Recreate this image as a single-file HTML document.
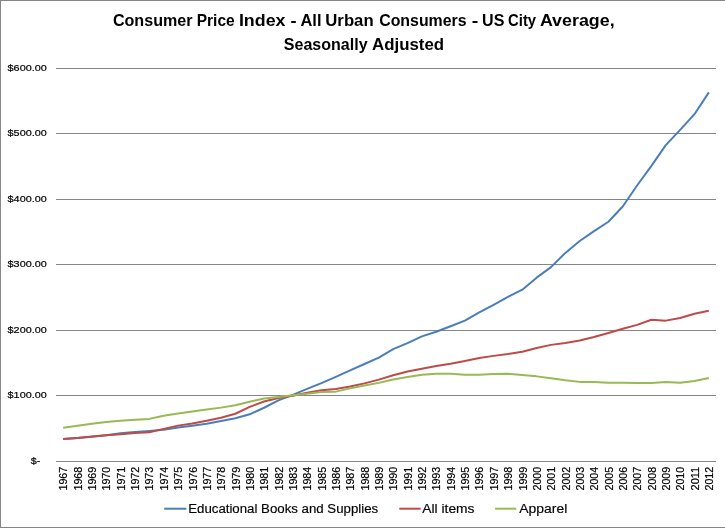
<!DOCTYPE html>
<html lang="en"><head><meta charset="utf-8"><title>Consumer Price Index</title>
<style>
html,body{margin:0;padding:0;background:#fff}
body{width:725px;height:528px;overflow:hidden}
svg{display:block}
text{font-family:"Liberation Sans",sans-serif;fill:#000}
.g{fill:#868686;shape-rendering:crispEdges}
.s{fill:none;stroke-width:2;stroke-linejoin:round;stroke-linecap:butt}
.ax{font-size:9.9px;stroke:#000;stroke-width:0.2px}
.lg{font-size:12.3px;stroke:#000;stroke-width:0.15px}
.ti{font-size:16.5px;font-weight:bold}
</style></head><body>
<svg width="725" height="528" viewBox="0 0 725 528">
<rect x="0" y="0" width="725" height="528" fill="#fff"/>
<rect class="g" x="0" y="0" width="725" height="1"/>
<rect class="g" x="0" y="0" width="1" height="528"/>
<rect class="g" x="0" y="527" width="725" height="1"/>

<g class="ti">
<text x="112.9" y="25.7" textLength="79.6" lengthAdjust="spacingAndGlyphs">Consumer</text>
<text x="196.7" y="25.7" textLength="38.0" lengthAdjust="spacingAndGlyphs">Price</text>
<text x="238.9" y="25.7" textLength="46.6" lengthAdjust="spacingAndGlyphs">Index</text>
<text x="290.6" y="25.7" textLength="6.1" lengthAdjust="spacingAndGlyphs">-</text>
<text x="300.5" y="25.7" textLength="21.0" lengthAdjust="spacingAndGlyphs">All</text>
<text x="325.3" y="25.7" textLength="48.3" lengthAdjust="spacingAndGlyphs">Urban</text>
<text x="379.2" y="25.7" textLength="87.4" lengthAdjust="spacingAndGlyphs">Consumers</text>
<text x="471.7" y="25.7" textLength="6.6" lengthAdjust="spacingAndGlyphs">-</text>
<text x="482.1" y="25.7" textLength="22.3" lengthAdjust="spacingAndGlyphs">US</text>
<text x="508.1" y="25.7" textLength="28.0" lengthAdjust="spacingAndGlyphs">City</text>
<text x="539.9" y="25.7" textLength="74.7" lengthAdjust="spacingAndGlyphs">Average,</text>
<text x="283.8" y="50" textLength="83.8" lengthAdjust="spacingAndGlyphs">Seasonally</text>
<text x="372.1" y="50" textLength="72.0" lengthAdjust="spacingAndGlyphs">Adjusted</text>
</g>
<rect class="g" x="56" y="461" width="660" height="1"/>
<text class="ax" x="30.8" y="464.0" textLength="9.6" lengthAdjust="spacingAndGlyphs">$-</text>
<rect class="g" x="56" y="395" width="660" height="1"/>
<text class="ax" x="7.6" y="398.2" textLength="39.2" lengthAdjust="spacingAndGlyphs">$100.00</text>
<rect class="g" x="56" y="330" width="660" height="1"/>
<text class="ax" x="7.6" y="333.2" textLength="39.2" lengthAdjust="spacingAndGlyphs">$200.00</text>
<rect class="g" x="56" y="264" width="660" height="1"/>
<text class="ax" x="7.6" y="267.2" textLength="39.2" lengthAdjust="spacingAndGlyphs">$300.00</text>
<rect class="g" x="56" y="199" width="660" height="1"/>
<text class="ax" x="7.6" y="202.2" textLength="39.2" lengthAdjust="spacingAndGlyphs">$400.00</text>
<rect class="g" x="56" y="133" width="660" height="1"/>
<text class="ax" x="7.6" y="136.2" textLength="39.2" lengthAdjust="spacingAndGlyphs">$500.00</text>
<rect class="g" x="56" y="68" width="660" height="1"/>
<text class="ax" x="7.6" y="71.2" textLength="39.2" lengthAdjust="spacingAndGlyphs">$600.00</text>
<g class="ax" style="font-size:10.1px" text-anchor="end">
<text transform="translate(67.37,466.8) rotate(-90)" textLength="23.7" lengthAdjust="spacingAndGlyphs">1967</text>
<text transform="translate(81.72,466.8) rotate(-90)" textLength="23.7" lengthAdjust="spacingAndGlyphs">1968</text>
<text transform="translate(96.07,466.8) rotate(-90)" textLength="23.7" lengthAdjust="spacingAndGlyphs">1969</text>
<text transform="translate(110.42,466.8) rotate(-90)" textLength="23.7" lengthAdjust="spacingAndGlyphs">1970</text>
<text transform="translate(124.77,466.8) rotate(-90)" textLength="23.7" lengthAdjust="spacingAndGlyphs">1971</text>
<text transform="translate(139.11,466.8) rotate(-90)" textLength="23.7" lengthAdjust="spacingAndGlyphs">1972</text>
<text transform="translate(153.46,466.8) rotate(-90)" textLength="23.7" lengthAdjust="spacingAndGlyphs">1973</text>
<text transform="translate(167.81,466.8) rotate(-90)" textLength="23.7" lengthAdjust="spacingAndGlyphs">1974</text>
<text transform="translate(182.16,466.8) rotate(-90)" textLength="23.7" lengthAdjust="spacingAndGlyphs">1975</text>
<text transform="translate(196.50,466.8) rotate(-90)" textLength="23.7" lengthAdjust="spacingAndGlyphs">1976</text>
<text transform="translate(210.85,466.8) rotate(-90)" textLength="23.7" lengthAdjust="spacingAndGlyphs">1977</text>
<text transform="translate(225.20,466.8) rotate(-90)" textLength="23.7" lengthAdjust="spacingAndGlyphs">1978</text>
<text transform="translate(239.55,466.8) rotate(-90)" textLength="23.7" lengthAdjust="spacingAndGlyphs">1979</text>
<text transform="translate(253.90,466.8) rotate(-90)" textLength="23.7" lengthAdjust="spacingAndGlyphs">1980</text>
<text transform="translate(268.24,466.8) rotate(-90)" textLength="23.7" lengthAdjust="spacingAndGlyphs">1981</text>
<text transform="translate(282.59,466.8) rotate(-90)" textLength="23.7" lengthAdjust="spacingAndGlyphs">1982</text>
<text transform="translate(296.94,466.8) rotate(-90)" textLength="23.7" lengthAdjust="spacingAndGlyphs">1983</text>
<text transform="translate(311.29,466.8) rotate(-90)" textLength="23.7" lengthAdjust="spacingAndGlyphs">1984</text>
<text transform="translate(325.63,466.8) rotate(-90)" textLength="23.7" lengthAdjust="spacingAndGlyphs">1985</text>
<text transform="translate(339.98,466.8) rotate(-90)" textLength="23.7" lengthAdjust="spacingAndGlyphs">1986</text>
<text transform="translate(354.33,466.8) rotate(-90)" textLength="23.7" lengthAdjust="spacingAndGlyphs">1987</text>
<text transform="translate(368.68,466.8) rotate(-90)" textLength="23.7" lengthAdjust="spacingAndGlyphs">1988</text>
<text transform="translate(383.03,466.8) rotate(-90)" textLength="23.7" lengthAdjust="spacingAndGlyphs">1989</text>
<text transform="translate(397.37,466.8) rotate(-90)" textLength="23.7" lengthAdjust="spacingAndGlyphs">1990</text>
<text transform="translate(411.72,466.8) rotate(-90)" textLength="23.7" lengthAdjust="spacingAndGlyphs">1991</text>
<text transform="translate(426.07,466.8) rotate(-90)" textLength="23.7" lengthAdjust="spacingAndGlyphs">1992</text>
<text transform="translate(440.42,466.8) rotate(-90)" textLength="23.7" lengthAdjust="spacingAndGlyphs">1993</text>
<text transform="translate(454.77,466.8) rotate(-90)" textLength="23.7" lengthAdjust="spacingAndGlyphs">1994</text>
<text transform="translate(469.11,466.8) rotate(-90)" textLength="23.7" lengthAdjust="spacingAndGlyphs">1995</text>
<text transform="translate(483.46,466.8) rotate(-90)" textLength="23.7" lengthAdjust="spacingAndGlyphs">1996</text>
<text transform="translate(497.81,466.8) rotate(-90)" textLength="23.7" lengthAdjust="spacingAndGlyphs">1997</text>
<text transform="translate(512.16,466.8) rotate(-90)" textLength="23.7" lengthAdjust="spacingAndGlyphs">1998</text>
<text transform="translate(526.50,466.8) rotate(-90)" textLength="23.7" lengthAdjust="spacingAndGlyphs">1999</text>
<text transform="translate(540.85,466.8) rotate(-90)" textLength="23.7" lengthAdjust="spacingAndGlyphs">2000</text>
<text transform="translate(555.20,466.8) rotate(-90)" textLength="23.7" lengthAdjust="spacingAndGlyphs">2001</text>
<text transform="translate(569.55,466.8) rotate(-90)" textLength="23.7" lengthAdjust="spacingAndGlyphs">2002</text>
<text transform="translate(583.90,466.8) rotate(-90)" textLength="23.7" lengthAdjust="spacingAndGlyphs">2003</text>
<text transform="translate(598.24,466.8) rotate(-90)" textLength="23.7" lengthAdjust="spacingAndGlyphs">2004</text>
<text transform="translate(612.59,466.8) rotate(-90)" textLength="23.7" lengthAdjust="spacingAndGlyphs">2005</text>
<text transform="translate(626.94,466.8) rotate(-90)" textLength="23.7" lengthAdjust="spacingAndGlyphs">2006</text>
<text transform="translate(641.29,466.8) rotate(-90)" textLength="23.7" lengthAdjust="spacingAndGlyphs">2007</text>
<text transform="translate(655.63,466.8) rotate(-90)" textLength="23.7" lengthAdjust="spacingAndGlyphs">2008</text>
<text transform="translate(669.98,466.8) rotate(-90)" textLength="23.7" lengthAdjust="spacingAndGlyphs">2009</text>
<text transform="translate(684.33,466.8) rotate(-90)" textLength="23.7" lengthAdjust="spacingAndGlyphs">2010</text>
<text transform="translate(698.68,466.8) rotate(-90)" textLength="23.7" lengthAdjust="spacingAndGlyphs">2011</text>
<text transform="translate(713.03,466.8) rotate(-90)" textLength="23.7" lengthAdjust="spacingAndGlyphs">2012</text>
</g>
<polyline class="s" stroke="#4a7ebb" points="63.17,439.12 77.52,438.07 91.87,436.76 106.22,435.26 120.57,433.29 134.91,431.98 149.26,431.00 163.61,429.82 177.96,427.60 192.30,425.70 206.65,423.67 221.00,420.91 235.35,418.23 249.70,414.30 264.04,407.75 278.39,400.41 292.74,394.85 307.09,388.95 321.43,383.19 335.78,376.90 350.13,370.35 364.48,363.99 378.83,357.64 393.17,349.13 407.52,343.10 421.87,336.35 436.22,331.70 450.57,326.27 464.91,320.63 479.26,312.45 493.61,304.78 507.96,296.79 522.30,289.72 536.65,277.67 551.00,267.12 565.35,252.91 579.70,241.05 594.04,231.09 608.39,221.73 622.74,206.53 637.09,185.51 651.43,165.86 665.78,145.16 680.13,129.90 694.48,114.18 708.83,92.37"/>
<polyline class="s" stroke="#be4b48" points="63.17,438.99 77.52,437.88 91.87,436.50 106.22,435.19 120.57,434.14 134.91,432.97 149.26,432.18 163.61,428.90 177.96,425.63 192.30,423.60 206.65,420.85 221.00,417.77 235.35,413.77 249.70,406.83 264.04,401.53 278.39,398.05 292.74,395.76 307.09,392.68 321.43,390.33 335.78,388.95 350.13,386.40 364.48,383.38 378.83,379.65 393.17,375.33 407.52,371.59 421.87,368.78 436.22,366.02 450.57,363.80 464.91,361.05 479.26,358.10 493.61,355.87 507.96,354.10 522.30,351.81 536.65,347.95 551.00,344.87 565.35,343.03 579.70,340.48 594.04,337.01 608.39,333.08 622.74,328.82 637.09,324.89 651.43,319.78 665.78,320.63 680.13,318.01 694.48,313.69 708.83,310.74"/>
<polyline class="s" stroke="#98b954" points="63.17,427.73 77.52,425.83 91.87,423.67 106.22,421.90 120.57,420.85 134.91,419.87 149.26,418.88 163.61,415.67 177.96,413.51 192.30,411.61 206.65,409.58 221.00,407.62 235.35,405.32 249.70,401.72 264.04,398.58 278.39,396.94 292.74,395.17 307.09,393.73 321.43,392.03 335.78,391.64 350.13,388.36 364.48,385.41 378.83,382.86 393.17,379.45 407.52,376.90 421.87,374.74 436.22,373.75 450.57,373.75 464.91,374.67 479.26,374.74 493.61,373.88 507.96,373.82 522.30,375.00 536.65,376.37 551.00,378.14 565.35,380.30 579.70,381.88 594.04,382.07 608.39,382.73 622.74,382.73 637.09,382.92 651.43,382.99 665.78,381.88 680.13,382.79 694.48,380.96 708.83,377.95"/>
<line class="s" stroke="#4a7ebb" x1="164.2" x2="186.4" y1="508.7" y2="508.7"/>
<text class="lg" x="188.2" y="512.9" textLength="190" lengthAdjust="spacingAndGlyphs">Educational Books and Supplies</text>
<line class="s" stroke="#be4b48" x1="399.3" x2="420.6" y1="508.7" y2="508.7"/>
<text class="lg" x="422.3" y="512.9" textLength="52.2" lengthAdjust="spacingAndGlyphs">All items</text>
<line class="s" stroke="#98b954" x1="495.1" x2="516.3" y1="508.7" y2="508.7"/>
<text class="lg" x="519.3" y="512.9" textLength="48" lengthAdjust="spacingAndGlyphs">Apparel</text>
</svg></body></html>
